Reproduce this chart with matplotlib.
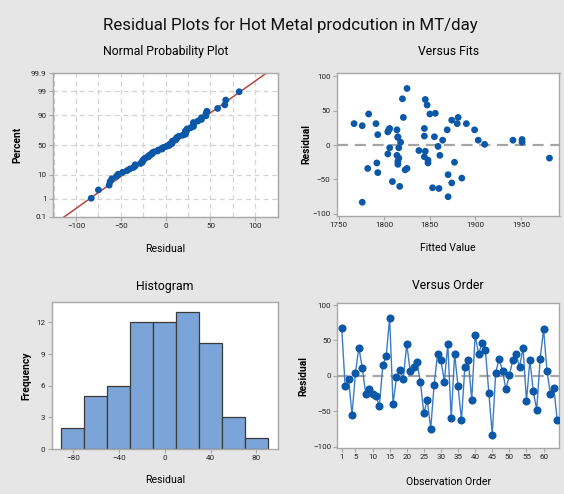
import matplotlib
matplotlib.use("Agg")
import matplotlib.pyplot as plt
import numpy as np
from statistics import NormalDist
from matplotlib.ticker import MultipleLocator

# ---------------- data ----------------
residuals = [67, -15, -4, -55, 4, 40, 11, -25, -19, -26, -28, -43, 15, 28, 82, -40,
             -2, 8, -4, 45, 7, 12, 19, -9, -53, -34, -75, -13, 31, 22, -8, 45,
             -60, 31, -15, -62, 13, 22, -34, 58, 31, 46, 36, -24, -83, 4, 24, 7,
             -19, 1, 22, 31, 12, 40, -36, 22, -22, -48, 24, 66, 7, -26, -17, -63]
fitted = [1820, 1814, 1806, 1874, 1951, 1821, 1815, 1877, 1981, 1848, 1815, 1870,
          1793, 1776, 1825, 1793, 1859, 1951, 1816, 1783, 1903, 1855, 1804, 1845,
          1809, 1782, 1870, 1804, 1791, 1869, 1838, 1850, 1817, 1880, 1861, 1853,
          1844, 1899, 1825, 1847, 1890, 1856, 1874, 1815, 1776, 1818, 1844, 1941,
          1816, 1910, 1805, 1767, 1815, 1881, 1823, 1814, 1848, 1885, 1806, 1845,
          1864, 1792, 1844, 1860]
hist_edges = [-90, -70, -50, -30, -10, 10, 30, 50, 70, 90]
prob_ticks = [0.1, 1, 10, 50, 90, 99, 99.9]
prob_labels = ["0.1", "1", "10", "50", "90", "99", "99.9"]

title = "Residual Plots for Hot Metal prodcution in MT/day"

# ---------------- style ----------------
plt.rcParams['font.family'] = ['Roboto', 'DejaVu Sans']

BG = "#e6e6e6"
BLUE = "#0b58a8"
LINEBLUE = "#3c7cc4"
BAR = "#7ba5d8"
RED = "#b5473f"
SPINE = "#a8a8a8"
REF = "#a5a5a5"

TICK = 5.8
LAB = 7.6
SUB = 8.8

W, H = 564, 494
fig = plt.figure(figsize=(W / 100, H / 100), dpi=100, facecolor=BG)


def ax_at(l, t, r, b):
    return fig.add_axes([l / W, 1 - b / H, (r - l) / W, (b - t) / H])


def style(ax):
    ax.set_facecolor("white")
    for s in ax.spines.values():
        s.set_color(SPINE)
        s.set_linewidth(1.0)
    ax.tick_params(axis='both', which='major', labelsize=TICK, length=3,
                   color=SPINE, pad=1.5, labelcolor="#222222")
    ax.tick_params(axis='both', which='minor', length=0)


def ylab(ax, text, x):
    ax.set_ylabel(text, fontsize=7.4, fontweight='bold')
    ax.yaxis.set_label_coords(x, 0.5)


res = np.array(residuals, dtype=float)
n = len(res)
nd = NormalDist()

# ---------- Normal probability plot ----------
ax1 = ax_at(52.7, 73.3, 277.7, 216.7)
style(ax1)
srt = np.sort(res)
pp = [(i - 0.3) / (n + 0.4) for i in range(1, n + 1)]
z = np.array([nd.inv_cdf(p) for p in pp])
zlim = nd.inv_cdf(0.001)
ax1.set_ylim(zlim, -zlim)
ax1.set_xlim(-126, 125)
mu, sd = res.mean(), res.std(ddof=1)
zz = np.array([zlim - 1, -zlim + 1])
ax1.plot(mu + sd * zz, zz, color=RED, lw=1.1, zorder=2)
ax1.scatter(srt, z, s=24, color=BLUE, zorder=3, edgecolors='none')
yt = [nd.inv_cdf(p / 100) for p in prob_ticks]
ax1.set_yticks(yt)
ax1.set_yticklabels(prob_labels)
ax1.set_xticks([-100, -50, 0, 50, 100])
ax1.xaxis.set_minor_locator(MultipleLocator(25))
ax1.grid(True, which='both', axis='x', ls=(0, (4, 3)), color="#d4d4d4", lw=0.9)
ax1.grid(True, which='major', axis='y', ls=(0, (4, 3)), color="#d4d4d4", lw=0.9)
ax1.set_axisbelow(True)
ax1.set_xlabel("Residual", fontsize=LAB, labelpad=11)
ylab(ax1, "Percent", -0.136)
ax1.set_title("Normal Probability Plot", fontsize=SUB, pad=13)

# ---------- Versus Fits ----------
ax2 = ax_at(336.7, 73.3, 559.5, 215.7)
style(ax2)
ax2.axhline(0, color=REF, ls=(0, (5, 3)), lw=1.6, zorder=1)
ax2.scatter(fitted, residuals, s=24, color=BLUE, zorder=3, edgecolors='none')
ax2.set_xlim(1748, 1992)
ax2.set_ylim(-102.5, 104)
ax2.set_xticks([1750, 1800, 1850, 1900, 1950])
ax2.set_yticks([-100, -50, 0, 50, 100])
ax2.set_xlabel("Fitted Value", fontsize=LAB, labelpad=11)
ylab(ax2, "Residual", -0.115)
ax2.set_title("Versus Fits", fontsize=SUB, pad=13)

# ---------- Histogram ----------
ax3 = ax_at(51.7, 302.3, 278, 449)
style(ax3)
ax3.hist(res, bins=hist_edges, color=BAR, edgecolor="#3a3a3a", linewidth=0.9)
ax3.set_xlim(-98.5, 98.8)
ax3.set_ylim(0, 13.9)
ax3.set_xticks([-80, -40, 0, 40, 80])
ax3.set_yticks([0, 3, 6, 9, 12])
ax3.set_xlabel("Residual", fontsize=LAB, labelpad=10)
ylab(ax3, "Frequency", -0.091)
ax3.set_title("Histogram", fontsize=SUB, pad=9)

# ---------- Versus Order ----------
ax4 = ax_at(337.3, 303.3, 559.3, 447.7)
style(ax4)
order = np.arange(1, n + 1)
ax4.axhline(0, color=REF, ls=(0, (5, 3)), lw=1.6, zorder=1)
ax4.plot(order, res, color=LINEBLUE, lw=1.0, marker='o', ms=4.8,
         mfc=BLUE, mec=BLUE, zorder=3)
ax4.set_xlim(-0.3, 64.6)
ax4.set_ylim(-101.5, 102.5)
ax4.set_xticks([1, 5, 10, 15, 20, 25, 30, 35, 40, 45, 50, 55, 60])
ax4.set_yticks([-100, -50, 0, 50, 100])
ax4.set_xlabel("Observation Order", fontsize=LAB, labelpad=12)
ylab(ax4, "Residual", -0.131)
ax4.set_title("Versus Order", fontsize=SUB, pad=10)

fig.text(290 / W, 1 - 25 / H, title, ha='center', va='center', fontsize=12.2,
         fontweight='normal', color="#111111")

fig.savefig("out.png", dpi=100, facecolor=BG)
